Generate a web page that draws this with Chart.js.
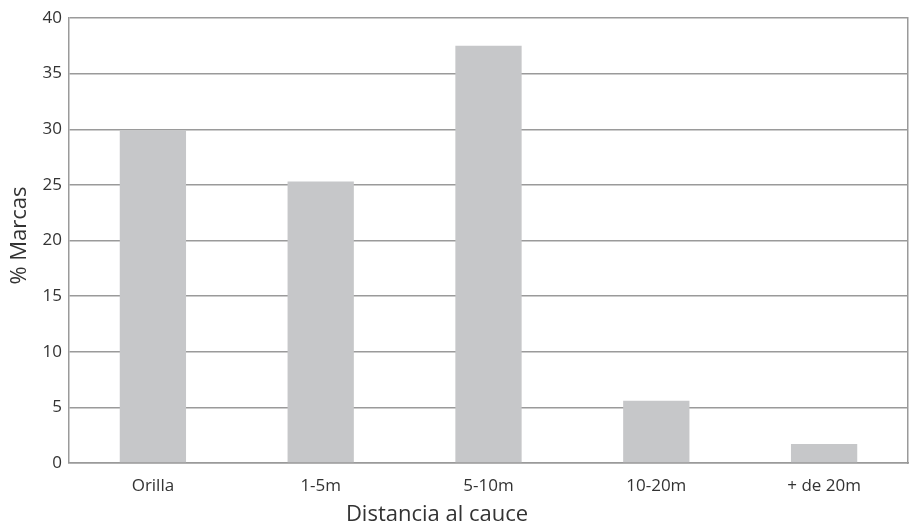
<!DOCTYPE html>
<html>
<head>
<meta charset="utf-8">
<script src="https://cdn.jsdelivr.net/npm/chart.js@4"></script>
<style>
  html, body { margin: 0; padding: 0; background: #fff; }
  #wrap { width: 909px; height: 527px; }
</style>
</head>
<body>
<div id="wrap"><canvas id="myChart"></canvas></div>
<script>
// datos del grafico
const categories = ['Orilla', '1-5m', '5-10m', '10-20m', '+ de 20m'];
const marcas = [29.9, 25.3, 37.5, 5.6, 1.7];
const yTicks = [0, 5, 10, 15, 20, 25, 30, 35, 40];
const xTitle = 'Distancia al cauce';
const yTitle = '% Marcas';

const gridColor = '#9a9a9a';
const textColor = '#333333';

// titulos de ejes dibujados a mano (el de x no esta centrado en el area)
const axisTitles = {
    id: 'axisTitles',
    afterDraw(chart) {
        const c = chart.ctx;
        const area = chart.chartArea;
        c.save();
        c.fillStyle = textColor;
        c.font = '22px "Open Sans"';
        c.textAlign = 'center';
        c.textBaseline = 'middle';
        c.fillText(xTitle, 437, 515);
        c.translate(20, (area.top + area.bottom) / 2 - 5);
        c.rotate(-Math.PI / 2);
        c.fillText(yTitle, 0, 0);
        c.restore();
    }
};

const ctx = document.getElementById('myChart').getContext('2d');
const chart = new Chart(ctx, {
    type: 'bar',
    data: {
        labels: categories,
        datasets: [{
            label: yTitle,
            backgroundColor: '#c6c7c9',
            borderWidth: 0,
            data: marcas,
            categoryPercentage: 1,
            barPercentage: 0.395
        }]
    },
    plugins: [axisTitles],
    options: {
        responsive: true,
        maintainAspectRatio: false,
        animation: false,
        layout: { padding: { left: 8, right: 1, top: 18, bottom: 0 } },
        plugins: {
            legend: { display: false },
            tooltip: { enabled: false }
        },
        scales: {
            x: {
                grid: { display: false },
                border: { display: true, color: gridColor, width: 1.5 },
                ticks: {
                    color: textColor,
                    font: { family: 'Open Sans', size: 17 },
                    padding: 5
                },
                afterFit: function (scale) { scale.height = 64; }
            },
            y: {
                min: 0,
                max: 40,
                afterBuildTicks: function (scale) {
                    scale.ticks = yTicks.map(v => ({ value: v }));
                },
                grid: { color: gridColor, lineWidth: 1.5, drawTicks: false },
                border: { display: true, color: gridColor, width: 1.5 },
                ticks: {
                    color: textColor,
                    font: { family: 'Open Sans', size: 17 },
                    padding: 7
                },
                afterFit: function (scale) { scale.width = 61; }
            },
            y2: {
                position: 'right',
                min: 0,
                max: 40,
                grid: { display: false, drawTicks: false },
                border: { display: true, color: gridColor, width: 1.5 },
                ticks: { display: false },
                afterFit: function (scale) { scale.width = 0; }
            }
        }
    }
});
</script>
</body>
</html>
